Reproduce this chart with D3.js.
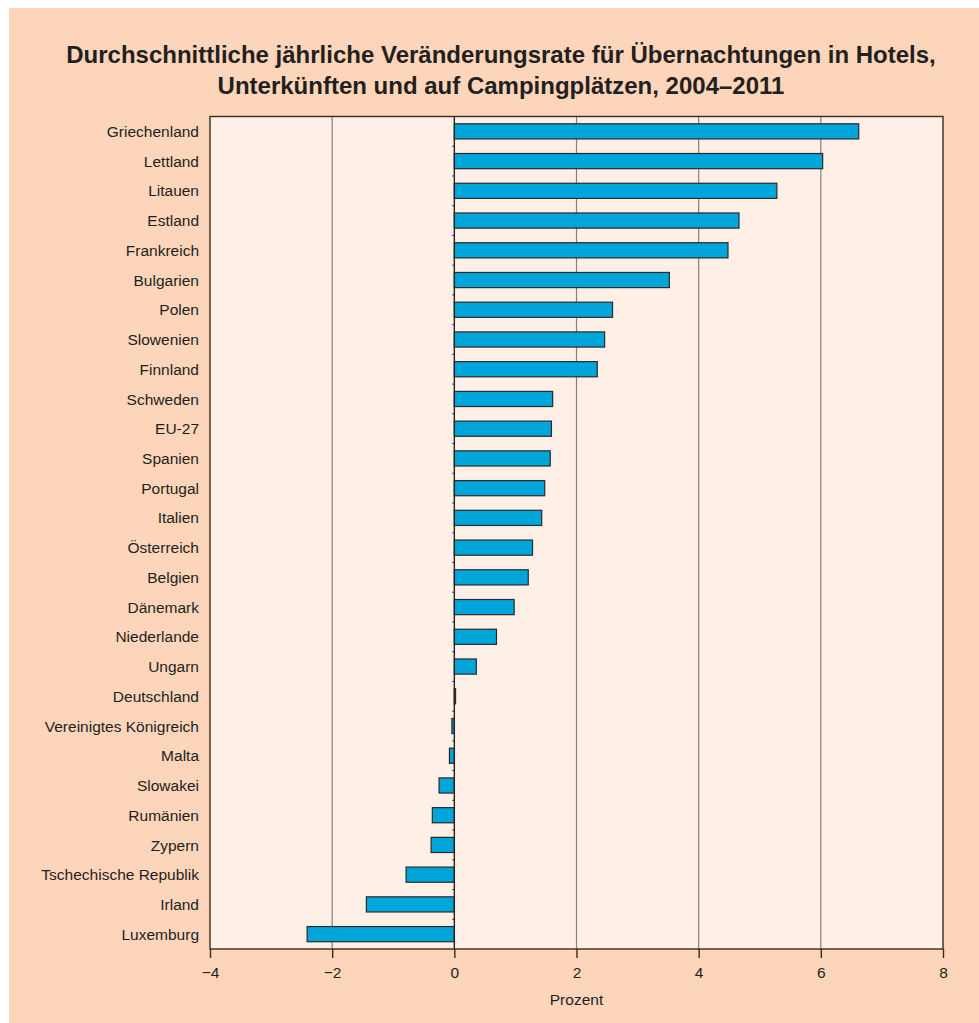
<!DOCTYPE html>
<html>
<head>
<meta charset="utf-8">
<script src="https://d3js.org/d3.v7.min.js"></script>
<style>
  body { margin: 0; background: #fff; }
  text { font-family: "Liberation Sans", Arial, sans-serif; fill: #231f1c; }
</style>
</head>
<body>
<script>
// categories, top to bottom
var countries = ["Griechenland", "Lettland", "Litauen", "Estland", "Frankreich", "Bulgarien",
  "Polen", "Slowenien", "Finnland", "Schweden", "EU-27", "Spanien", "Portugal", "Italien",
  "Österreich", "Belgien", "Dänemark", "Niederlande", "Ungarn", "Deutschland",
  "Vereinigtes Königreich", "Malta", "Slowakei", "Rumänien", "Zypern",
  "Tschechische Republik", "Irland", "Luxemburg"];
// average annual change in %
var rates = [6.62, 6.03, 5.28, 4.66, 4.48, 3.52, 2.59, 2.46, 2.34, 1.61, 1.59, 1.57, 1.48, 1.43,
  1.28, 1.21, 0.98, 0.69, 0.36, 0.02, -0.04, -0.08, -0.25, -0.36, -0.38, -0.79, -1.44, -2.41];
var xTicks = [-4, -2, 0, 2, 4, 6, 8];

var data = countries.map(function(c, i) { return {name: c, value: rates[i]}; });

var W = 979, H = 1023;
var plotL = 210, plotR = 943, plotT = 116.5, plotB = 949;

var svg = d3.select("body").append("svg")
    .attr("width", W)
    .attr("height", H);

// outer background
svg.append("rect")
    .attr("x", 9).attr("y", 8)
    .attr("width", W - 9).attr("height", H - 8)
    .attr("fill", "#fdd5bb");

svg.append("text")
    .attr("x", 501).attr("y", 63)
    .attr("text-anchor", "middle")
    .style("font-size", "24px")
    .style("font-weight", "bold")
    .text("Durchschnittliche jährliche Veränderungsrate für Übernachtungen in Hotels,");
svg.append("text")
    .attr("x", 501).attr("y", 94)
    .attr("text-anchor", "middle")
    .style("font-size", "24px")
    .style("font-weight", "bold")
    .text("Unterkünften und auf Campingplätzen, 2004\u20132011");

var x = d3.scaleLinear().domain([-4, 8]).range([plotL, plotR]);
var y = d3.scaleBand().domain(countries).range([plotT, plotB]).paddingInner(0.49).paddingOuter(0.245);

// plot background
svg.append("rect")
    .attr("x", plotL).attr("y", plotT)
    .attr("width", plotR - plotL).attr("height", plotB - plotT)
    .attr("fill", "#fef0e6");

// gridlines
svg.append("g").selectAll("line")
    .data(xTicks.filter(function(t) { return t !== 0 && t !== -4 && t !== 8; }))
    .join("line")
    .attr("x1", function(d) { return x(d); })
    .attr("x2", function(d) { return x(d); })
    .attr("y1", plotT).attr("y2", plotB)
    .attr("stroke", "#8a7f78")
    .attr("stroke-width", 1.2);

// bars
svg.append("g").selectAll("rect")
    .data(data)
    .join("rect")
    .attr("x", function(d) { return x(Math.min(0, d.value)); })
    .attr("y", function(d) { return y(d.name); })
    .attr("width", function(d) { return Math.abs(x(d.value) - x(0)); })
    .attr("height", y.bandwidth())
    .attr("fill", "#00a5d9")
    .attr("stroke", "#2b2a28")
    .attr("stroke-width", 1.2);

// zero line with small category ticks
svg.append("line")
    .attr("x1", x(0)).attr("x2", x(0))
    .attr("y1", plotT).attr("y2", plotB)
    .attr("stroke", "#2b2320")
    .attr("stroke-width", 1.4);
svg.append("g").selectAll("line")
    .data(d3.range(1, countries.length))
    .join("line")
    .attr("x1", x(0) - 2).attr("x2", x(0))
    .attr("y1", function(i) { return plotT + i * (plotB - plotT) / countries.length; })
    .attr("y2", function(i) { return plotT + i * (plotB - plotT) / countries.length; })
    .attr("stroke", "#2b2320");

// frame
svg.append("rect")
    .attr("x", plotL).attr("y", plotT)
    .attr("width", plotR - plotL).attr("height", plotB - plotT)
    .attr("fill", "none")
    .attr("stroke", "#3b2a20")
    .attr("stroke-width", 1.4);

// x axis
var xAxis = svg.append("g")
    .attr("transform", "translate(0," + plotB + ")")
    .call(d3.axisBottom(x).tickValues(xTicks).tickSize(9).tickPadding(9)
      .tickFormat(function(d) { return d < 0 ? "\u2212" + Math.abs(d) : d; }));
xAxis.select(".domain").remove();
xAxis.selectAll("line").attr("stroke", "#3b2a20").attr("stroke-width", 1.4);
xAxis.selectAll("text").style("font-size", "15.5px").attr("fill", "#231f1c")
    .style("font-family", "'Liberation Sans', Arial, sans-serif");

svg.append("text")
    .attr("x", x(2)).attr("y", 1005)
    .attr("text-anchor", "middle")
    .style("font-size", "15.5px")
    .text("Prozent");

// category labels
svg.append("g").selectAll("text")
    .data(countries)
    .join("text")
    .attr("x", 199)
    .attr("y", function(d) { return y(d) + y.bandwidth() / 2; })
    .attr("dy", "0.36em")
    .attr("text-anchor", "end")
    .style("font-size", "15.5px")
    .text(function(d) { return d; });
</script>
</body>
</html>
